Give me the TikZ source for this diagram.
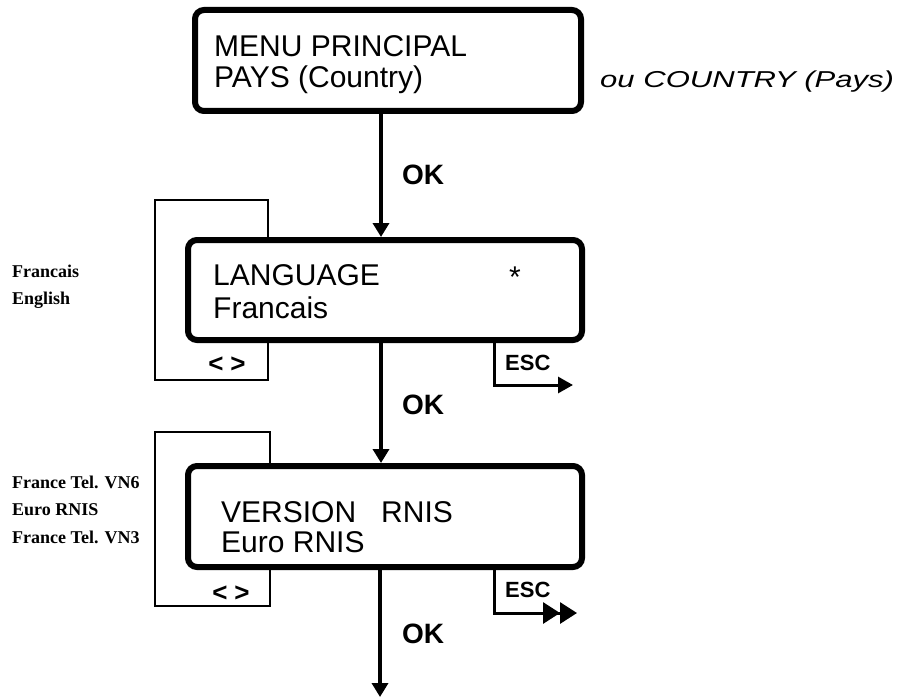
\documentclass[tikz,border=0pt]{standalone}
\usepackage{fontspec}
\setmainfont{Liberation Sans}
\newfontfamily\serifbold{Liberation Serif}[BoldFont={Liberation Serif Bold}]
\usetikzlibrary{arrows.meta}
\begin{document}
\begin{tikzpicture}[x=1pt,y=-1pt,
  screen/.style={draw, line width=6pt, rounded corners=9pt, inner sep=0, minimum width=#1},
  screentext/.style={anchor=base west, inner sep=0, font=\fontsize{30}{36}\selectfont},
  oklabel/.style={anchor=base west, inner sep=0, font=\fontsize{28}{34}\selectfont\bfseries},
  esclabel/.style={anchor=base west, inner sep=0, font=\fontsize{22}{26}\selectfont\bfseries},
  navlabel/.style={inner sep=0, font=\fontsize{26}{30}\selectfont\bfseries},
  choice/.style={anchor=base west, inner sep=0, font=\fontsize{18}{22}\selectfont\serifbold\bfseries},
  okarrow/.style={line width=3.5pt, -{Triangle[length=14pt,width=16pt]}},
  loopline/.style={line width=2.5pt, line join=miter},
  escline/.style={line width=3pt, line join=miter},
]
\useasboundingbox (0,0) rectangle (901,698);

% menu screens
\node[screen=386pt, minimum height=101pt] (menu) at (388,60.5) {};
\node[screen=394pt, minimum height=100pt] (lang) at (385,290) {};
\node[screen=394pt, minimum height=101pt] (vers) at (385,516.5) {};

% screen contents
\node[screentext] (m1) at (214,57) {MENU PRINCIPAL};
\node[screentext] (m2) at (214,88) {PAYS (Country)};
\node[screentext] (l1) at (213,285) {LANGUAGE};
\node[screentext] (l2) at (213,318) {Francais};
\node[inner sep=0, font=\fontsize{30}{36}\selectfont] (star) at (515,277) {*};
\node[screentext] (v1) at (221,522) {VERSION\hspace{25pt}RNIS};
\node[screentext] (v2) at (221,552) {Euro RNIS};

% alternative label
\node[anchor=base west, inner sep=0, font=\fontsize{23}{28}\selectfont\itshape] (alt) at (600,88)
  {\scalebox{1.35}[1]{ou COUNTRY (Pays)}};

% main OK path
\coordinate (axis) at (381,0);
\coordinate (exit) at (380,697);
\draw[okarrow] (menu.south -| axis) -- (lang.north -| axis);
\draw[okarrow] (lang.south -| axis) -- (vers.north -| axis);
\draw[okarrow] ([yshift=3pt]vers.south -| exit) -- (exit);
\node[oklabel] (ok1) at (402,184) {OK};
\node[oklabel] (ok2) at (402,414) {OK};
\node[oklabel] (ok3) at (402,643) {OK};

% selection loops
\coordinate (la) at (155,200);
\coordinate (lb) at (268,380);
\draw[loopline] (lang.north -| lb) |- (la) |- (lb) -- (lang.south -| lb);
\node[navlabel] (nav1) at (227,365) {<\hspace{7pt}>};

\coordinate (va) at (155,432);
\coordinate (vb) at (270,606);
\draw[loopline] (vers.north -| vb) |- (va) |- (vb) -- (vers.south -| vb);
\node[navlabel] (nav2) at (231,594) {<\hspace{7pt}>};

% escape exits
\coordinate (esc1) at (573,385);
\draw[escline, -{Triangle[length=15pt,width=16pt]}] (lang.south -| 494,0) |- (esc1);
\node[esclabel] (escA) at (505,370) {ESC};

\coordinate (esc2) at (577,613);
\draw[escline, -{Triangle[length=17pt,width=21pt] Triangle[length=17pt,width=21pt]}] (vers.south -| 494,0) |- (esc2);
\node[esclabel] (escB) at (505,597) {ESC};

% choice lists
\node[choice] (c1) at (12,277) {Francais};
\node[choice] (c2) at (12,304) {English};
\node[choice] (c3) at (12,488) {France Tel. VN6};
\node[choice] (c4) at (12,515) {Euro RNIS};
\node[choice] (c5) at (12,543) {France Tel. VN3};
\end{tikzpicture}
\end{document}
